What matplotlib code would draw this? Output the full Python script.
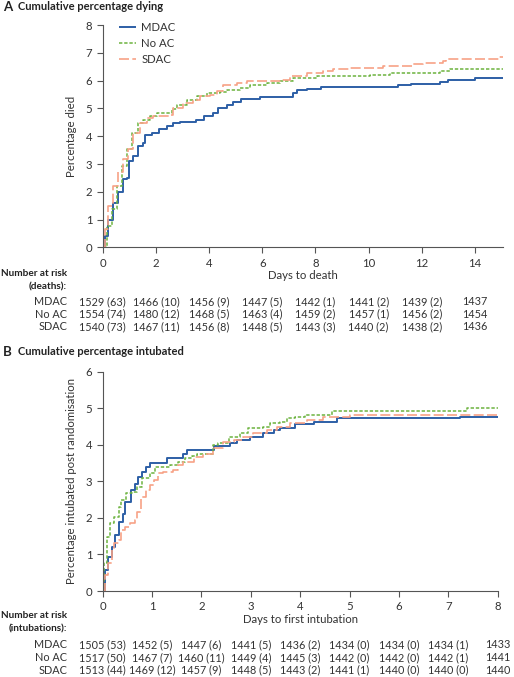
import matplotlib
matplotlib.use('Agg')
import matplotlib.pyplot as plt

plt.rcParams['font.family'] = ['Lato', 'DejaVu Sans']
plt.rcParams['font.size'] = 8

GREY = '#555555'
colors = {'MDAC': '#2d5fa6', 'No AC': '#6cb33f', 'SDAC': '#f7a286'}
styles = {'MDAC': (0, ()), 'No AC': (0, (2.2, 1.2)), 'SDAC': (0, (6, 2))}
widths = {'MDAC': 1.4, 'No AC': 1.1, 'SDAC': 1.2}
groups = ['MDAC', 'No AC', 'SDAC']

# panel A: cumulative percentage dying (days, percent)
death_t = {
    'MDAC': [0, 0.09, 0.21, 0.4, 0.59, 0.78, 0.9, 1.0, 1.15, 1.34, 1.5, 1.6, 1.84, 2.1,
             2.4, 2.66, 2.9, 3.5, 3.8, 4.16, 4.35, 4.66, 4.9, 5.2, 5.9, 7.17, 7.3, 7.67,
             8.2, 11.1, 11.6, 12.7, 13.0, 14.0, 15.04],
    'No AC': [0, 0.15, 0.34, 0.53, 0.71, 0.9, 1.09, 1.34, 1.53, 1.78, 2.03, 2.59, 2.78,
              3.16, 3.53, 3.91, 4.41, 4.66, 5.16, 5.54, 6.16, 6.67, 7.17, 8.04, 10.05,
              10.8, 12.7, 13.06, 15.04],
    'SDAC': [0, 0.09, 0.21, 0.4, 0.59, 0.78, 0.96, 1.15, 1.4, 1.65, 1.9, 2.53, 2.66,
             3.03, 3.41, 3.66, 4.04, 4.29, 4.54, 5.04, 5.41, 6.67, 7.04, 7.67, 8.3, 8.67,
             9.3, 10.55, 11.68, 12.06, 12.8, 12.9, 14.9, 15.04],
}
death_pct = {
    'MDAC': [0, 0.42, 1.0, 1.6, 2.0, 2.45, 2.5, 3.1, 3.3, 3.65, 3.75, 4.05, 4.12, 4.25,
             4.37, 4.46, 4.5, 4.6, 4.72, 4.85, 5.02, 5.14, 5.22, 5.35, 5.42, 5.56, 5.65,
             5.7, 5.77, 5.83, 5.89, 5.94, 6.02, 6.08, 6.08],
    'No AC': [0, 0.78, 1.38, 2.2, 2.93, 3.53, 4.13, 4.49, 4.58, 4.72, 4.82, 4.99, 5.14,
              5.32, 5.44, 5.54, 5.59, 5.68, 5.74, 5.83, 5.92, 6.0, 6.09, 6.16, 6.22, 6.28,
              6.36, 6.42, 6.42],
    'SDAC': [0, 0.66, 1.5, 2.2, 2.7, 3.17, 3.53, 4.13, 4.49, 4.67, 4.72, 4.78, 5.02, 5.2,
             5.32, 5.44, 5.5, 5.62, 5.83, 5.92, 5.98, 6.04, 6.16, 6.26, 6.34, 6.4, 6.46,
             6.52, 6.58, 6.64, 6.7, 6.76, 6.84, 6.84],
}

# panel B: cumulative percentage intubated
intub_t = {
    'MDAC': [0, 0.05, 0.11, 0.18, 0.25, 0.34, 0.41, 0.45, 0.57, 0.65, 0.72, 0.79, 0.88,
             0.96, 1.31, 1.63, 1.7, 2.25, 2.58, 2.72, 2.98, 3.25, 3.46, 3.6, 3.9, 4.27,
             4.74, 7.24, 8.0],
    'No AC': [0, 0.03, 0.08, 0.15, 0.23, 0.32, 0.38, 0.47, 0.59, 0.69, 0.79, 0.96, 1.06,
              1.36, 1.53, 1.67, 1.8, 1.9, 2.24, 2.34, 2.55, 2.78, 2.95, 3.25, 3.39, 3.59,
              3.73, 3.9, 4.1, 4.64, 7.37, 8.0],
    'SDAC': [0, 0.05, 0.11, 0.18, 0.23, 0.32, 0.38, 0.45, 0.55, 0.65, 0.7, 0.78, 0.88,
             0.96, 1.03, 1.13, 1.23, 1.43, 1.53, 1.63, 1.84, 2.04, 2.24, 2.44, 2.65, 2.85,
             3.05, 3.32, 3.52, 3.8, 4.13, 4.47, 5.01, 8.0],
}
intub_pct = {
    'MDAC': [0, 0.57, 0.94, 1.21, 1.53, 1.9, 2.12, 2.44, 2.76, 2.94, 3.13, 3.26, 3.4,
             3.51, 3.65, 3.76, 3.86, 3.97, 4.04, 4.13, 4.22, 4.31, 4.4, 4.45, 4.56, 4.63,
             4.72, 4.77, 4.77],
    'No AC': [0, 0.76, 1.49, 1.85, 2.03, 2.31, 2.49, 2.69, 2.72, 2.85, 3.08, 3.22, 3.4,
              3.45, 3.54, 3.63, 3.69, 3.75, 3.99, 4.04, 4.22, 4.31, 4.45, 4.49, 4.59, 4.63,
              4.72, 4.77, 4.81, 4.93, 5.01, 5.01],
    'SDAC': [0, 0.44, 0.76, 1.12, 1.3, 1.39, 1.67, 1.76, 1.85, 1.94, 2.17, 2.58, 2.76,
             2.9, 3.04, 3.22, 3.26, 3.31, 3.45, 3.54, 3.67, 3.76, 3.9, 4.08, 4.13, 4.22,
             4.31, 4.4, 4.49, 4.59, 4.68, 4.75, 4.81, 4.82],
}

death_ticks = [0, 2, 4, 6, 8, 10, 12, 14]
death_risk = {
    'MDAC': ['1529 (63)', '1466 (10)', '1456 (9)', '1447 (5)', '1442 (1)', '1441 (2)', '1439 (2)', '1437'],
    'No AC': ['1554 (74)', '1480 (12)', '1468 (5)', '1463 (4)', '1459 (2)', '1457 (1)', '1456 (2)', '1454'],
    'SDAC': ['1540 (73)', '1467 (11)', '1456 (8)', '1448 (5)', '1443 (3)', '1440 (2)', '1438 (2)', '1436'],
}
intub_ticks = [0, 1, 2, 3, 4, 5, 6, 7, 8]
intub_risk = {
    'MDAC': ['1505 (53)', '1452 (5)', '1447 (6)', '1441 (5)', '1436 (2)', '1434 (0)', '1434 (0)', '1434 (1)', '1433'],
    'No AC': ['1517 (50)', '1467 (7)', '1460 (11)', '1449 (4)', '1445 (3)', '1442 (0)', '1442 (0)', '1442 (1)', '1441'],
    'SDAC': ['1513 (44)', '1469 (12)', '1457 (9)', '1448 (5)', '1443 (2)', '1441 (1)', '1440 (0)', '1440 (0)', '1440'],
}

W, H = 514, 677
fig = plt.figure(figsize=(W / 100, H / 100), dpi=100)


def px_axes(left, top, right, bottom):
    return fig.add_axes([left / W, 1 - bottom / H, (right - left) / W, (bottom - top) / H])


def style_axes(ax, xticks, yticks, xmax, ymax):
    for s in ['top', 'right']:
        ax.spines[s].set_visible(False)
    for s in ['left', 'bottom']:
        ax.spines[s].set_color(GREY)
        ax.spines[s].set_linewidth(0.8)
    ax.set_xlim(0, xmax)
    ax.set_ylim(0, ymax)
    ax.set_xticks(xticks)
    ax.set_yticks(yticks)
    ax.tick_params(colors=GREY, labelcolor='#333333', length=4, width=0.8, labelsize=8.2)


def risk_table(ax, ticks, risk, label_lines, row_px, label_px):
    tr = ax.get_xaxis_transform()
    bottom_px = (1 - ax.get_position().y0) * H
    for g, ypx in zip(groups, row_px):
        for t, txt in zip(ticks, risk[g]):
            ax.annotate(txt, xy=(t, 0), xycoords=tr, xytext=(0, -(ypx - bottom_px) * 0.72),
                        textcoords='offset points', ha='center', va='center',
                        fontsize=7.8, color='#333333', annotation_clip=False)
        fig.text(67 / W, 1 - ypx / H, g, ha='right', va='center', fontsize=7.8, color='#333333')
    for txt, ypx in zip(label_lines, label_px):
        fig.text(67 / W, 1 - ypx / H, txt, ha='right', va='center', fontsize=7.2,
                 fontweight='bold', color='#222222')


# ---- panel A
axA = px_axes(102.7, 25, 503, 247.5)
for g in groups:
    axA.step(death_t[g], death_pct[g], where='post', color=colors[g], linestyle=styles[g],
             linewidth=widths[g], label=g)
style_axes(axA, death_ticks, range(0, 9), 15.05, 8)
axA.set_ylabel('Percentage died', fontsize=8.2, color='#333333', labelpad=6)
axA.set_xlabel('Days to death', fontsize=8.2, color='#333333', labelpad=1)
axA.legend(loc='upper left', bbox_to_anchor=(0.04, 1.015), frameon=False, fontsize=8.2,
           borderpad=0, borderaxespad=0, handlelength=1.5, handletextpad=0.5,
           labelspacing=0.45, labelcolor='#333333')
fig.text(3 / W, 1 - 7 / H, 'A', fontsize=9.5, fontweight='bold', va='center', color='#222222')
fig.text(18 / W, 1 - 7 / H, 'Cumulative percentage dying', fontsize=8, fontweight='bold',
         va='center', color='#222222')
risk_table(axA, death_ticks, death_risk, ['Number at risk', '(deaths):'],
           [301.7, 314, 326.7], [273, 286.7])

# ---- panel B
axB = px_axes(102.7, 371.7, 497.7, 591)
for g in groups:
    axB.step(intub_t[g], intub_pct[g], where='post', color=colors[g], linestyle=styles[g],
             linewidth=widths[g], label=g)
style_axes(axB, intub_ticks, range(0, 7), 8, 6)
axB.set_ylabel('Percentage intubated post randomisation', fontsize=8.2, color='#333333', labelpad=6)
axB.set_xlabel('Days to first intubation', fontsize=8.2, color='#333333', labelpad=1)
fig.text(3 / W, 1 - 352 / H, 'B', fontsize=9.5, fontweight='bold', va='center', color='#222222')
fig.text(18 / W, 1 - 352 / H, 'Cumulative percentage intubated', fontsize=8, fontweight='bold',
         va='center', color='#222222')
risk_table(axB, intub_ticks, intub_risk, ['Number at risk', '(intubations):'],
           [645, 657.7, 670], [616, 629])

fig.savefig('out.png', dpi=100)
